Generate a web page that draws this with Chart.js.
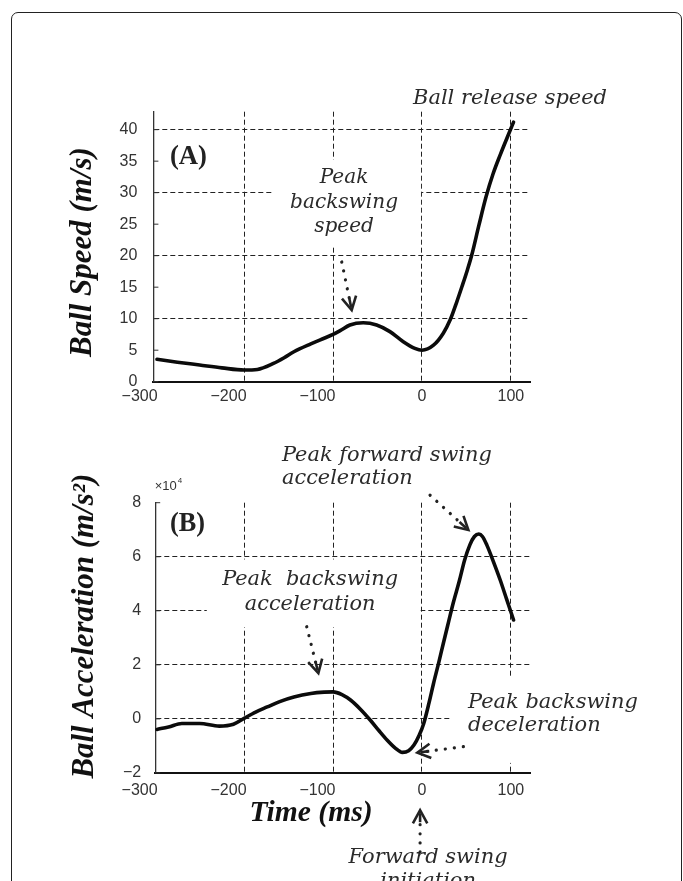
<!DOCTYPE html>
<html><head><meta charset="utf-8">
<script src="https://cdn.jsdelivr.net/npm/chart.js@4.4.1/dist/chart.umd.min.js"></script>
<style>
html,body{margin:0;padding:0;background:#fff;}
body{width:683px;height:881px;position:relative;overflow:hidden;}
#frame{position:absolute;left:11px;top:12px;width:671px;height:920px;border:1.5px solid #222;border-radius:7px;box-sizing:border-box;}
canvas{position:absolute;left:0;top:0;}
</style></head>
<body>
<div id="frame"></div>
<canvas id="c1" width="683" height="881"></canvas>
<canvas id="c2" width="683" height="881"></canvas>
<script>
// ---- data ----
const timeTicks = [-300, -200, -100, 0, 100];
const speedTicks = [0, 5, 10, 15, 20, 25, 30, 35, 40];
const accelTicks = [-2, 0, 2, 4, 6, 8];

// (A) Ball speed (m/s) vs time (ms)
const speedTime = [-298,-275,-250,-225,-200,-185,-167,-155,-144,-125,-110,-100,-92,-81,-66,-51,-36,-21,-8,0,13,24,32,39,45,51,56,64,72,80,88,96,103];
const speedValues = [3.55,3.1,2.65,2.2,1.85,1.95,2.9,3.8,4.75,6.0,6.9,7.5,8.1,9.0,9.35,9.0,7.95,6.35,5.3,5.0,5.8,7.7,9.9,12.6,15.1,17.7,20.1,24.8,29.3,33.0,36.0,38.8,41.2];

// (B) Ball acceleration (x10^4 m/s^2) vs time (ms)
const accelTime = [-298,-285,-270,-250,-228,-212,-200,-187,-174,-160,-144,-125,-110,-100,-90,-80,-69,-58,-48,-39,-30,-22,-15,-9,-3,2,8,13,19,24,30,35,42,48,54,59,64,68,73,80,88,95,103];
const accelValues = [-0.39,-0.3,-0.17,-0.17,-0.27,-0.2,0.02,0.25,0.44,0.64,0.81,0.94,0.99,1.0,0.9,0.69,0.35,-0.05,-0.45,-0.79,-1.08,-1.24,-1.18,-0.97,-0.6,-0.17,0.6,1.31,2.1,2.79,3.6,4.27,5.1,5.88,6.45,6.75,6.84,6.75,6.43,5.85,5.14,4.45,3.66];

// ---- drawing helpers ----
const SERIF_IT = "'DejaVu Serif'";
const TIMES = "'Liberation Serif'";

function fitFont(ctx, style, family, text, width) {
  ctx.font = style + ' 20px ' + family;
  const m = ctx.measureText(text).width;
  return 20 * width / m;
}

function drawArrow(ctx, x1, y1, x2, y2) {
  const dx = x2 - x1, dy = y2 - y1, len = Math.hypot(dx, dy);
  const ux = dx / len, uy = dy / len;
  ctx.save();
  ctx.strokeStyle = '#222';
  ctx.lineCap = 'round';
  ctx.lineWidth = 3.2;
  ctx.setLineDash([0.1, 9]);
  ctx.beginPath();
  ctx.moveTo(x1, y1);
  ctx.lineTo(x2 - ux * 8, y2 - uy * 8);
  ctx.stroke();
  ctx.setLineDash([]);
  ctx.lineWidth = 2.6;
  ctx.lineCap = 'butt';
  ctx.lineJoin = 'miter';
  const L = 15, a = 0.5;
  const ang = Math.atan2(dy, dx);
  ctx.beginPath();
  ctx.moveTo(x2 - L * Math.cos(ang - a), y2 - L * Math.sin(ang - a));
  ctx.lineTo(x2, y2);
  ctx.lineTo(x2 - L * Math.cos(ang + a), y2 - L * Math.sin(ang + a));
  ctx.stroke();
  ctx.beginPath();
  ctx.moveTo(x2 - ux * 12, y2 - uy * 12);
  ctx.lineTo(x2 - ux * 3, y2 - uy * 3);
  ctx.stroke();
  ctx.restore();
}

const overlay = {
  id: 'overlay',
  beforeDatasetsDraw(chart, args, opts) {
    const {ctx, chartArea} = chart;
    const x = chart.scales.x, y = chart.scales.y;
    ctx.save();
    ctx.fillStyle = '#fff';
    (opts.masks || []).forEach(m => {
      const x0 = x.getPixelForValue(m.x0), x1 = x.getPixelForValue(m.x1);
      const y0 = y.getPixelForValue(m.y1), y1 = y.getPixelForValue(m.y0);
      ctx.fillRect(x0, y0, x1 - x0, y1 - y0);
    });
    ctx.strokeStyle = '#333';
    ctx.lineWidth = 1;
    y.ticks.forEach(t => {
      const py = y.getPixelForValue(t.value);
      ctx.beginPath();
      ctx.moveTo(chartArea.left, py);
      ctx.lineTo(chartArea.left + 5, py);
      ctx.stroke();
    });
    ctx.restore();
  },
  afterDatasetsDraw(chart, args, opts) {
    const {ctx} = chart;
    const x = chart.scales.x, y = chart.scales.y;
    (opts.texts || []).forEach(b => {
      const px = x.getPixelForValue(b.x), py = y.getPixelForValue(b.y);
      const size = fitFont(ctx, b.style, b.family, b.lines[b.fit || 0], b.width);
      ctx.save();
      ctx.font = b.style + ' ' + size + 'px ' + b.family;
      ctx.fillStyle = b.color;
      ctx.textAlign = b.align;
      ctx.textBaseline = 'middle';
      ctx.translate(px, py);
      if (b.rotate) ctx.rotate(-Math.PI / 2);
      b.lines.forEach((l, i) => ctx.fillText(l, 0, i * (b.lh || 0)));
      ctx.restore();
    });
    (opts.arrows || []).forEach(a => {
      drawArrow(ctx, x.getPixelForValue(a.x1), y.getPixelForValue(a.y1),
                     x.getPixelForValue(a.x2), y.getPixelForValue(a.y2));
    });
    (opts.after || []).forEach(fn => fn(chart));
  }
};

const tickFont = {family: "'Liberation Sans'", size: 16};
const gridDash = [5, 3];

function makeChart(id, cfg) {
  const XH = 40;
  return new Chart(document.getElementById(id), {
    type: 'line',
    data: {
      datasets: [{
        data: cfg.times.map((t, i) => ({x: t, y: cfg.values[i]})),
        borderColor: '#0b0b0b',
        borderWidth: 3.6,
        pointRadius: 0,
        fill: false,
        cubicInterpolationMode: 'monotone',
        borderCapStyle: 'round'
      }]
    },
    options: {
      responsive: false,
      maintainAspectRatio: false,
      animation: false,
      devicePixelRatio: 1,
      layout: {padding: {left: 0, top: cfg.area.top, right: 683 - cfg.area.right, bottom: 881 - cfg.area.bottom - XH}},
      plugins: {legend: {display: false}, tooltip: {enabled: false}, overlay: cfg.overlay},
      scales: {
        x: {
          type: 'linear', min: cfg.xMin, max: 121.5,
          afterFit: s => { s.height = XH; },
          afterBuildTicks: s => { s.ticks = timeTicks.map(v => ({value: v})); },
          ticks: {
            font: tickFont, color: '#333', padding: cfg.xPad, maxRotation: 0, autoSkip: false,
            callback: v => v < 0 ? '\u2212' + (-v) + '\u2007\u2007\u2007 ' : String(v)
          },
          grid: {color: c => (c.tick && c.tick.value > -300) ? '#222' : 'rgba(0,0,0,0)', lineWidth: 1, drawTicks: false},
          border: {display: true, color: '#111', width: 2, dash: gridDash}
        },
        y: {
          type: 'linear', min: cfg.yMin, max: cfg.yMax,
          afterFit: s => { s.width = cfg.area.left; },
          afterBuildTicks: s => { s.ticks = cfg.yTicks.map(v => ({value: v})); },
          ticks: {
            font: tickFont, color: '#333', padding: cfg.yPad, autoSkip: false,
            callback: v => v < 0 ? '\u2212' + (-v) : String(v)
          },
          grid: {color: c => (c.tick && cfg.gridY.includes(c.tick.value)) ? '#222' : 'rgba(0,0,0,0)', lineWidth: 1, drawTicks: false},
          border: {display: true, color: '#333', width: 1.3, dash: gridDash}
        }
      }
    },
    plugins: [overlay]
  });
}

const NOTE = '#2b2b2b';

makeChart('c1', {
  times: speedTime, values: speedValues,
  xMin: -302, yMin: 0, yMax: 42.85, yTicks: speedTicks, gridY: [10, 20, 30, 40],
  area: {left: 153.4, right: 530, top: 111.7, bottom: 381.7},
  xPad: 5, yPad: 16,
  overlay: {
    masks: [{x0: -167.5, x1: -1, y0: 21.5, y1: 35.2}],
    texts: [
      {lines: ['Ball release speed'], x: -10, y: 44.87, align: 'left', style: 'italic', family: SERIF_IT, width: 194, color: NOTE},
      {lines: ['Peak', 'backswing', 'speed'], fit: 1, x: -87.6, y: 32.3, lh: 24.5, align: 'center', style: 'italic', family: SERIF_IT, width: 108, color: NOTE},
      {lines: ['(A)'], x: -283.4, y: 35.66, align: 'left', style: 'bold', family: TIMES, width: 37, color: '#222'},
      {lines: ['Ball Speed (m/s)'], x: -381, y: 20.57, align: 'center', rotate: true, style: 'italic bold', family: TIMES, width: 210, color: '#111'}
    ],
    arrows: [{x1: -90.2, y1: 19.0, x2: -79.0, y2: 11.38}]
  }
});

makeChart('c2', {
  times: accelTime, values: accelValues,
  xMin: -300, yMin: -2, yMax: 8, yTicks: accelTicks, gridY: [0, 2, 4, 6],
  area: {left: 155.2, right: 530, top: 502.7, bottom: 772.9},
  xPad: 8, yPad: 14,
  overlay: {
    masks: [{x0: -242, x1: -1.5, y0: 3.39, y1: 5.9}, {x0: 31.6, x1: 130, y0: -1.63, y1: 1.56}],
    texts: [
      {lines: ['Peak forward swing', 'acceleration'], x: -157.4, y: 9.76, lh: 23, align: 'left', style: 'italic', family: SERIF_IT, width: 210, color: NOTE},
      {lines: ['Peak  backswing', 'acceleration'], x: -125.8, y: 5.14, lh: 25, align: 'center', style: 'italic', family: SERIF_IT, width: 176, color: NOTE},
      {lines: ['Peak backswing', 'deceleration'], x: 51.8, y: 0.59, lh: 23, align: 'left', style: 'italic', family: SERIF_IT, width: 170, color: NOTE},
      {lines: ['Forward swing', 'initiation'], x: 6.9, y: -5.13, lh: 24, align: 'center', style: 'italic', family: SERIF_IT, width: 159, color: NOTE},
      {lines: ['(B)'], x: -283.4, y: 7.2, align: 'left', style: 'bold', family: TIMES, width: 35, color: '#222'},
      {lines: ['Time (ms)'], x: -124.7, y: -3.48, align: 'center', style: 'italic bold', family: TIMES, width: 123, color: '#111'},
      {lines: ['Ball Acceleration (m/s\u00b2)'], x: -378.8, y: 3.43, align: 'center', rotate: true, style: 'italic bold', family: TIMES, width: 305, color: '#111'}
    ],
    arrows: [
      {x1: 9.1, y1: 8.28, x2: 52.2, y2: 6.99},
      {x1: -129.6, y1: 3.41, x2: -116.5, y2: 1.69},
      {x1: 46.6, y1: -1.03, x2: -5.2, y2: -1.25},
      {x1: -2.1, y1: -4.93, x2: -2.1, y2: -3.38}
    ],
    after: [chart => {
      const ctx = chart.ctx;
      const px = chart.scales.x.getPixelForValue(-300.5), py = chart.scales.y.getPixelForValue(8.62);
      ctx.save();
      ctx.fillStyle = '#333';
      ctx.textBaseline = 'middle';
      ctx.textAlign = 'left';
      ctx.font = "13px 'Liberation Sans'";
      ctx.fillText('\u00d710', px, py);
      const w = ctx.measureText('\u00d710').width;
      ctx.font = "8px 'Liberation Sans'";
      ctx.fillText('4', px + w + 1, py - 5);
      ctx.restore();
    }]
  }
});
</script>
</body></html>
